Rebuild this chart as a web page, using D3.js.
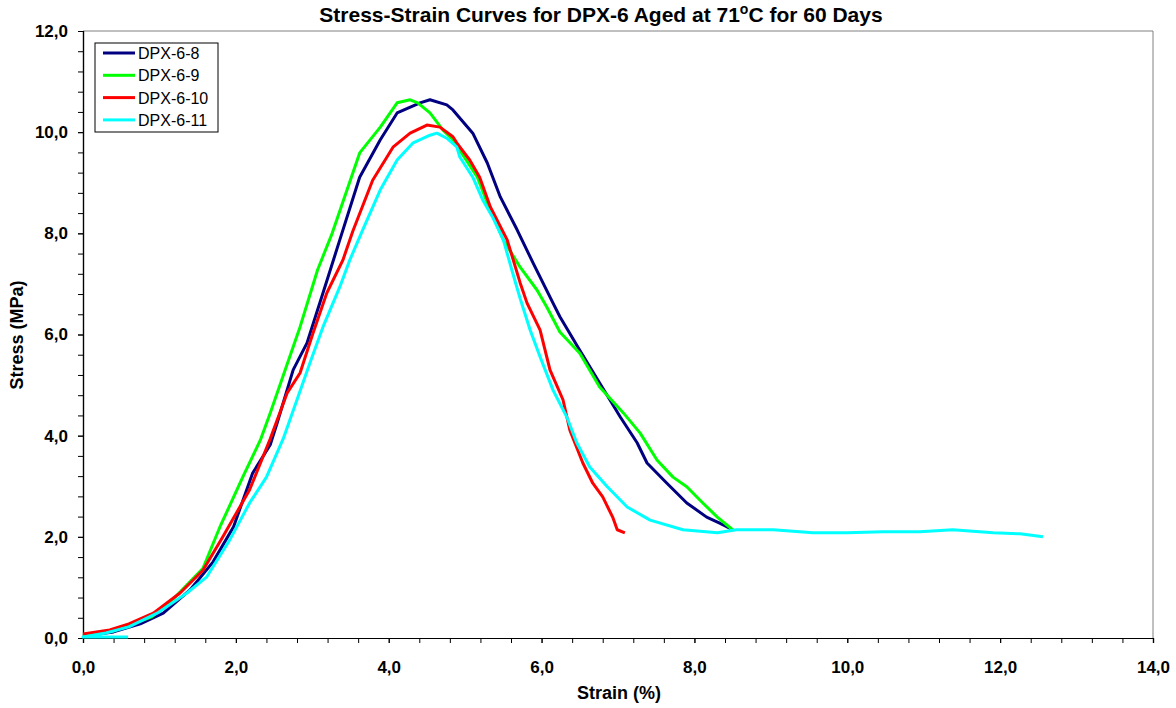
<!DOCTYPE html>
<html>
<head>
<meta charset="utf-8">
<script src="https://cdn.jsdelivr.net/npm/d3@7"></script>
<style>
  body { margin: 0; background: #fff; }
  svg { display: block; font-family: "Liberation Sans", Arial, sans-serif; }
</style>
</head>
<body>
<svg id="chart" width="1176" height="708"></svg>
<script>
// values: [strain %, stress MPa]
const dpx68 = [
  [0, 0.04], [0.4, 0.12], [0.75, 0.28], [1.05, 0.49], [1.4, 0.95], [1.7, 1.5],
  [1.97, 2.2], [2.22, 3.26], [2.45, 3.82], [2.54, 4.25], [2.75, 5.3], [2.93, 5.83],
  [3.14, 6.82], [3.36, 7.87], [3.62, 9.11], [3.89, 9.85], [4.11, 10.38], [4.41, 10.58],
  [4.54, 10.64], [4.76, 10.54], [4.84, 10.44], [5.1, 9.98], [5.29, 9.39], [5.46, 8.72],
  [5.68, 8.07], [5.89, 7.41], [6.15, 6.62], [6.24, 6.35], [6.5, 5.69], [6.76, 5.04],
  [7.03, 4.37], [7.25, 3.86], [7.38, 3.46], [7.64, 3.06], [7.9, 2.67], [8.16, 2.39],
  [8.33, 2.27], [8.5, 2.14]
];
const dpx69 = [
  [0, 0.05], [0.4, 0.14], [0.9, 0.42], [1.2, 0.8], [1.57, 1.38], [1.79, 2.19],
  [2.09, 3.18], [2.32, 3.91], [2.45, 4.45], [2.84, 6.15], [3.07, 7.28], [3.26, 8.0],
  [3.62, 9.59], [3.89, 10.1], [4.11, 10.58], [4.28, 10.64], [4.38, 10.58], [4.54, 10.38],
  [4.71, 10.04], [4.84, 9.85], [5.16, 9.11], [5.29, 8.6], [5.5, 7.87], [5.72, 7.33],
  [5.94, 6.88], [6.07, 6.54], [6.24, 6.05], [6.5, 5.63], [6.76, 4.96], [7.07, 4.45],
  [7.29, 4.05], [7.51, 3.52], [7.72, 3.18], [7.9, 2.99], [8.11, 2.67], [8.3, 2.39],
  [8.5, 2.14]
];
const dpx610 = [
  [0, 0.08], [0.35, 0.16], [0.6, 0.28], [0.92, 0.49], [1.27, 0.89], [1.57, 1.34],
  [1.83, 2.0], [2.18, 2.93], [2.45, 3.94], [2.67, 4.84], [2.84, 5.24], [3.01, 6.03],
  [3.19, 6.82], [3.4, 7.47], [3.53, 8.04], [3.79, 9.05], [4.06, 9.71], [4.28, 9.98],
  [4.5, 10.14], [4.67, 10.1], [4.84, 9.91], [4.89, 9.79], [5.06, 9.45], [5.19, 9.11],
  [5.33, 8.52], [5.55, 7.87], [5.72, 7.02], [5.81, 6.62], [5.98, 6.09], [6.11, 5.3],
  [6.28, 4.71], [6.37, 4.11], [6.54, 3.46], [6.67, 3.06], [6.8, 2.79], [6.93, 2.39],
  [6.99, 2.14], [7.09, 2.08]
];
const dpx611 = [
  [0.59, 0.02], [0, 0.02], [0.3, 0.1], [0.6, 0.22], [0.97, 0.49], [1.36, 0.89],
  [1.62, 1.21], [1.92, 1.94], [2.18, 2.67], [2.4, 3.18], [2.62, 3.94], [2.8, 4.71],
  [2.97, 5.44], [3.14, 6.15], [3.36, 6.94], [3.49, 7.47], [3.66, 8.07], [3.89, 8.86],
  [4.11, 9.45], [4.32, 9.79], [4.54, 9.94], [4.63, 9.98], [4.76, 9.88], [4.89, 9.71],
  [4.93, 9.51], [5.1, 9.11], [5.23, 8.66], [5.36, 8.32], [5.5, 7.87], [5.61, 7.28],
  [5.72, 6.71], [5.85, 6.09], [5.98, 5.56], [6.15, 4.9], [6.33, 4.37], [6.46, 3.86],
  [6.63, 3.38], [6.86, 2.99], [7.12, 2.59], [7.42, 2.33], [7.85, 2.14], [8.3, 2.08],
  [8.55, 2.14], [9.03, 2.14], [9.55, 2.08], [9.99, 2.08], [10.47, 2.1], [10.95, 2.1],
  [11.38, 2.14], [11.91, 2.08], [12.26, 2.06], [12.56, 2.0]
];

const seriesNames = ['DPX-6-8', 'DPX-6-9', 'DPX-6-10', 'DPX-6-11'];
const seriesColors = ['#000080', '#00ff00', '#ff0000', '#00ffff'];
const seriesData = [dpx68, dpx69, dpx610, dpx611];

const xTicks = [0, 2, 4, 6, 8, 10, 12, 14];
const yTicks = [0, 2, 4, 6, 8, 10, 12];

const fmt = d => d3.format('.1f')(d).replace('.', ',');

const svg = d3.select('#chart');
const margin = { left: 83, right: 23, top: 31, bottom: 70 };
const W = 1176, H = 708;

const x = d3.scaleLinear().domain([0, 14]).range([margin.left, W - margin.right]);
const y = d3.scaleLinear().domain([0, 12]).range([H - margin.bottom, margin.top]);

// frame: gray top/right
svg.append('path')
  .attr('d', `M${x(0)},${y(12)}H${x(14)}V${y(0)}`)
  .attr('fill', 'none')
  .attr('stroke', '#808080')
  .attr('stroke-width', 1);

// minor ticks
const xMinor = d3.range(0, 14.001, 0.4);
const yMinor = d3.range(0, 12.001, 0.4);

svg.append('g')
  .attr('transform', `translate(0,${y(0)})`)
  .call(d3.axisBottom(x).tickValues(xMinor).tickSize(5).tickFormat(''));
svg.append('g')
  .attr('transform', `translate(0,${y(0)})`)
  .call(d3.axisBottom(x).tickValues(xTicks).tickSize(5).tickPadding(18).tickFormat(fmt));

svg.append('g')
  .attr('transform', `translate(${x(0)},0)`)
  .call(d3.axisLeft(y).tickValues(yMinor).tickSize(5).tickFormat(''));
svg.append('g')
  .attr('transform', `translate(${x(0)},0)`)
  .call(d3.axisLeft(y).tickValues(yTicks).tickSize(5).tickPadding(10).tickFormat(fmt));

svg.selectAll('.domain').attr('stroke', '#000').attr('stroke-width', 1.2);
svg.selectAll('.tick line').attr('stroke', '#000');
svg.selectAll('.tick text')
  .attr('font-size', 17)
  .attr('font-weight', 'bold')
  .attr('fill', '#000')
  .attr('font-family', '"Liberation Sans", Arial, sans-serif');

// curves
const line = d3.line().x(d => x(d[0])).y(d => y(d[1]));
seriesData.forEach((data, i) => {
  svg.append('path')
    .datum(data)
    .attr('d', line)
    .attr('fill', 'none')
    .attr('stroke', seriesColors[i])
    .attr('stroke-width', 3)
    .attr('stroke-linejoin', 'round');
});

// title
const title = svg.append('text')
  .attr('x', 601)
  .attr('y', 22)
  .attr('text-anchor', 'middle')
  .attr('font-size', 21)
  .attr('font-weight', 'bold');
title.append('tspan').text('Stress-Strain Curves for DPX-6 Aged at 71');
title.append('tspan').attr('dy', -8).attr('font-size', 14).text('o');
title.append('tspan').attr('dy', 8).text('C for 60 Days');

// axis titles
svg.append('text')
  .attr('x', 619)
  .attr('y', 699)
  .attr('text-anchor', 'middle')
  .attr('font-size', 18)
  .attr('font-weight', 'bold')
  .text('Strain (%)');

svg.append('text')
  .attr('transform', 'translate(23,335) rotate(-90)')
  .attr('text-anchor', 'middle')
  .attr('font-size', 18)
  .attr('font-weight', 'bold')
  .text('Stress (MPa)');

// legend
const legend = svg.append('g').attr('transform', 'translate(95,43)');
legend.append('rect')
  .attr('width', 123)
  .attr('height', 89)
  .attr('fill', '#fff')
  .attr('stroke', '#000')
  .attr('stroke-width', 1);
seriesNames.forEach((name, i) => {
  const row = legend.append('g').attr('transform', `translate(0,${10 + i * 22.3})`);
  row.append('line')
    .attr('x1', 8).attr('x2', 40)
    .attr('stroke', seriesColors[i])
    .attr('stroke-width', 3);
  row.append('text')
    .attr('x', 43)
    .attr('y', 6)
    .attr('font-size', 16)
    .text(name);
});
</script>
</body>
</html>
